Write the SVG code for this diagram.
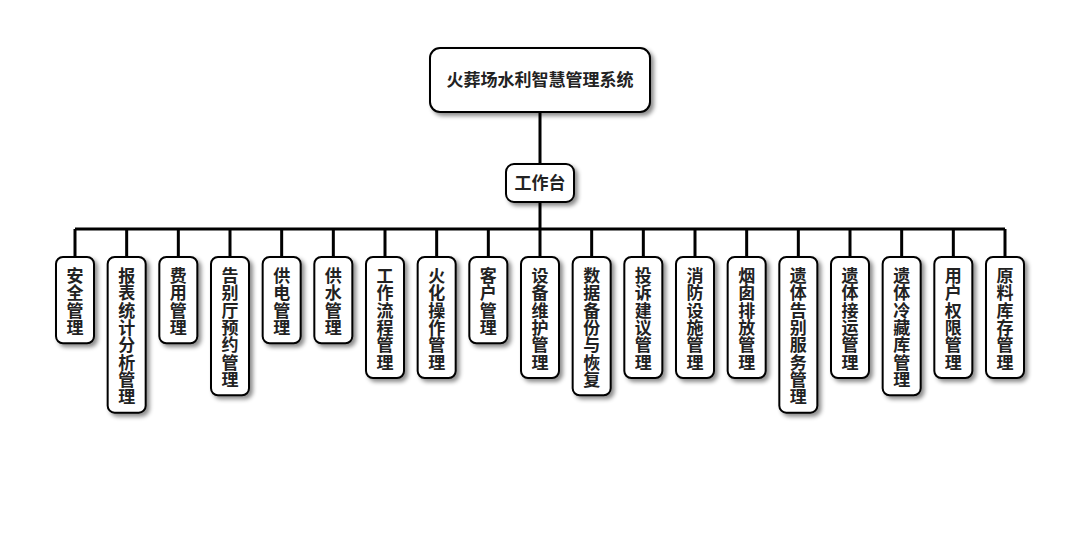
<svg xmlns="http://www.w3.org/2000/svg" width="1080" height="560" viewBox="0 0 1080 560">
<defs>
<filter id="sh" x="-30%" y="-30%" width="160%" height="160%">
<feDropShadow dx="3" dy="3" stdDeviation="2" flood-color="#000" flood-opacity="0.45"/>
</filter>
<style>
.box{fill:#fff;stroke:#000;stroke-width:2;filter:url(#sh)}
.t{font-family:"Noto Sans CJK SC","Noto Sans",sans-serif;font-weight:bold;font-size:17px;fill:#222;text-anchor:middle}
.v{font-family:"Noto Sans CJK SC","Noto Sans",sans-serif;font-weight:bold;font-size:17px;fill:#222;writing-mode:vertical-rl;text-orientation:upright;letter-spacing:0.33px}
.c{stroke:#000;stroke-width:3;fill:none}
</style>
</defs>
<rect width="1080" height="560" fill="#fff"/>
<g id="connectors">
<path class="c" d="M540 112V164M540 202V229M75 229H1005"/>
<path class="c" d="M75 229V257M126.67 229V257M178.33 229V257M230 229V257M281.67 229V257M333.33 229V257M385 229V257M436.67 229V257M488.33 229V257M540 229V257M591.67 229V257M643.33 229V257M695 229V257M746.67 229V257M798.33 229V257M850 229V257M901.67 229V257M953.33 229V257M1005 229V257"/>
</g>
<g id="root"><rect class="box" x="430" y="48" width="220" height="64" rx="10"/><text class="t" x="540" y="86">火葬场水利智慧管理系统</text></g>
<g id="workbench"><rect class="box" x="506" y="164" width="68" height="38" rx="8"/><text class="t" x="540" y="189">工作台</text></g>
<g id="n1"><rect class="box" x="56" y="257" width="38" height="86.3" rx="7"/><text class="v" x="75" y="267">安全管理</text></g>
<g id="n2"><rect class="box" x="107.67" y="257" width="38" height="155.7" rx="7"/><text class="v" x="126.67" y="267">报表统计分析管理</text></g>
<g id="n3"><rect class="box" x="159.33" y="257" width="38" height="86.3" rx="7"/><text class="v" x="178.33" y="267">费用管理</text></g>
<g id="n4"><rect class="box" x="211" y="257" width="38" height="138.3" rx="7"/><text class="v" x="230" y="267">告别厅预约管理</text></g>
<g id="n5"><rect class="box" x="262.67" y="257" width="38" height="86.3" rx="7"/><text class="v" x="281.67" y="267">供电管理</text></g>
<g id="n6"><rect class="box" x="314.33" y="257" width="38" height="86.3" rx="7"/><text class="v" x="333.33" y="267">供水管理</text></g>
<g id="n7"><rect class="box" x="366" y="257" width="38" height="121" rx="7"/><text class="v" x="385" y="267">工作流程管理</text></g>
<g id="n8"><rect class="box" x="417.67" y="257" width="38" height="121" rx="7"/><text class="v" x="436.67" y="267">火化操作管理</text></g>
<g id="n9"><rect class="box" x="469.33" y="257" width="38" height="86.3" rx="7"/><text class="v" x="488.33" y="267">客户管理</text></g>
<g id="n10"><rect class="box" x="521" y="257" width="38" height="121" rx="7"/><text class="v" x="540" y="267">设备维护管理</text></g>
<g id="n11"><rect class="box" x="572.67" y="257" width="38" height="138.3" rx="7"/><text class="v" x="591.67" y="267">数据备份与恢复</text></g>
<g id="n12"><rect class="box" x="624.33" y="257" width="38" height="121" rx="7"/><text class="v" x="643.33" y="267">投诉建议管理</text></g>
<g id="n13"><rect class="box" x="676" y="257" width="38" height="121" rx="7"/><text class="v" x="695" y="267">消防设施管理</text></g>
<g id="n14"><rect class="box" x="727.67" y="257" width="38" height="121" rx="7"/><text class="v" x="746.67" y="267">烟囱排放管理</text></g>
<g id="n15"><rect class="box" x="779.33" y="257" width="38" height="155.7" rx="7"/><text class="v" x="798.33" y="267">遗体告别服务管理</text></g>
<g id="n16"><rect class="box" x="831" y="257" width="38" height="121" rx="7"/><text class="v" x="850" y="267">遗体接运管理</text></g>
<g id="n17"><rect class="box" x="882.67" y="257" width="38" height="138.3" rx="7"/><text class="v" x="901.67" y="267">遗体冷藏库管理</text></g>
<g id="n18"><rect class="box" x="934.33" y="257" width="38" height="121" rx="7"/><text class="v" x="953.33" y="267">用户权限管理</text></g>
<g id="n19"><rect class="box" x="986" y="257" width="38" height="121" rx="7"/><text class="v" x="1005" y="267">原料库存管理</text></g>
</svg>
